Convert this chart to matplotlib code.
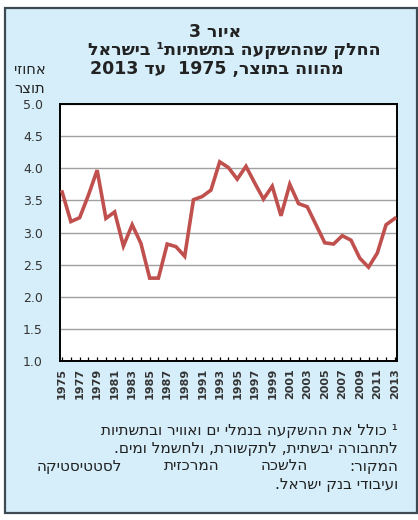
import re
import matplotlib
matplotlib.use("Agg")
import matplotlib.pyplot as plt
from matplotlib.patches import Rectangle
from matplotlib.ticker import MultipleLocator

plt.rcParams['font.family'] = ['DejaVu Sans']

years = list(range(1975, 2014))
share = [3.63, 3.17, 3.23, 3.58, 3.97, 3.22, 3.32, 2.79, 3.12, 2.83,
         2.29, 2.29, 2.82, 2.78, 2.63, 3.51, 3.56, 3.66, 4.10, 4.01,
         3.83, 4.03, 3.77, 3.52, 3.72, 3.26, 3.75, 3.45, 3.40, 3.12,
         2.84, 2.82, 2.95, 2.88, 2.60, 2.46, 2.68, 3.12, 3.22]
tick_years = list(range(1975, 2014, 2))
y_ticks = [1.0, 1.5, 2.0, 2.5, 3.0, 3.5, 4.0, 4.5, 5.0]

title1 = "איור 3"
title2 = "החלק שההשקעה בתשתיות¹ בישראל"
title3 = "מהווה בתוצר, 1975  עד 2013"
ylab = ["אחוזי", "תוצר"]
foot1 = "¹ כולל את ההשקעה בנמלי ים ואוויר ובתשתיות"
foot2 = "לתחבורה יבשתית, לתקשורת, ולחשמל ומים."
foot3 = "המקור: הלשכה המרכזית לסטטיסטיקה"
foot4 = "ועיבודי בנק ישראל."


def rtl(s):
    rev = s[::-1]
    return re.sub(r'[\d¹]+', lambda m: m.group(0)[::-1], rev)


W, H = 418, 520
fig = plt.figure(figsize=(W / 100, H / 100), dpi=100)
fig.patch.set_facecolor('white')
renderer = fig.canvas.get_renderer()

def fx(px):
    return px / W

def fy(py):
    return 1 - py / H

bg = Rectangle((fx(5), fy(513)), fx(417) - fx(5), fy(8) - fy(513),
               transform=fig.transFigure, facecolor='#D5EEFA',
               edgecolor='#3E4A52', linewidth=1.6, zorder=-10)
fig.patches.append(bg)

ax = fig.add_axes([fx(59.5), fy(361), fx(397) - fx(59.5), fy(104) - fy(361)])
ax.set_zorder(5)
ax.set_facecolor('white')
ax.plot(years, share, color='#C0504D', linewidth=2.6, solid_joinstyle='miter', zorder=3)
ax.set_xlim(1974.7, 2013.25)
ax.set_ylim(1.0, 5.0)
ax.set_yticks(y_ticks)
ax.set_yticklabels([f"{v:.1f}" for v in y_ticks])
ax.yaxis.grid(True, color='#A0A0A0', linewidth=1.0)
ax.set_axisbelow(True)
ax.tick_params(axis='y', length=0, pad=12, labelsize=9, labelcolor='#333333')
ax.set_xticks(tick_years)
ax.set_xticklabels([str(y) for y in tick_years], rotation=90, fontweight='bold')
ax.xaxis.set_minor_locator(MultipleLocator(1))
ax.tick_params(axis='x', which='both', direction='in', length=3, width=0.9,
               labelsize=8, labelcolor='#333333', pad=5)
for s in ax.spines.values():
    s.set_linewidth(1.4)
    s.set_color('black')

COL = '#222222'
tk = dict(transform=fig.transFigure, color=COL)

fig.text(fx(215), fy(32), rtl(title1), ha='center', va='center', fontsize=12.5, fontweight='bold', **tk)
fig.text(fx(234), fy(50), rtl(title2), ha='center', va='center', fontsize=12.5, fontweight='bold', **tk)
fig.text(fx(217), fy(69), rtl(title3), ha='center', va='center', fontsize=12.5, fontweight='bold', **tk)

fig.text(fx(30), fy(70), rtl(ylab[0]), ha='center', va='center', fontsize=10.5, **tk)
fig.text(fx(30), fy(88), rtl(ylab[1]), ha='center', va='center', fontsize=10.5, **tk)

FS = 11
fig.text(fx(398), fy(430), rtl(foot1), ha='right', va='center', fontsize=FS, **tk)
fig.text(fx(398), fy(448), rtl(foot2), ha='right', va='center', fontsize=FS, **tk)
fig.text(fx(398), fy(484), rtl(foot4), ha='right', va='center', fontsize=FS, **tk)

# justified source line
words = foot3.split()
vis = [rtl(w) for w in words][::-1]
texts = [fig.text(0, 0, v, ha='left', va='center', fontsize=FS, **tk) for v in vis]
widths = [t.get_window_extent(renderer).width for t in texts]
left, right = 37, 398
gap = (right - left - sum(widths)) / (len(texts) - 1)
x = left
for t, w in zip(texts, widths):
    t.set_position((fx(x), fy(466)))
    x += w + gap

fig.savefig('out.png', dpi=100, facecolor='white')
